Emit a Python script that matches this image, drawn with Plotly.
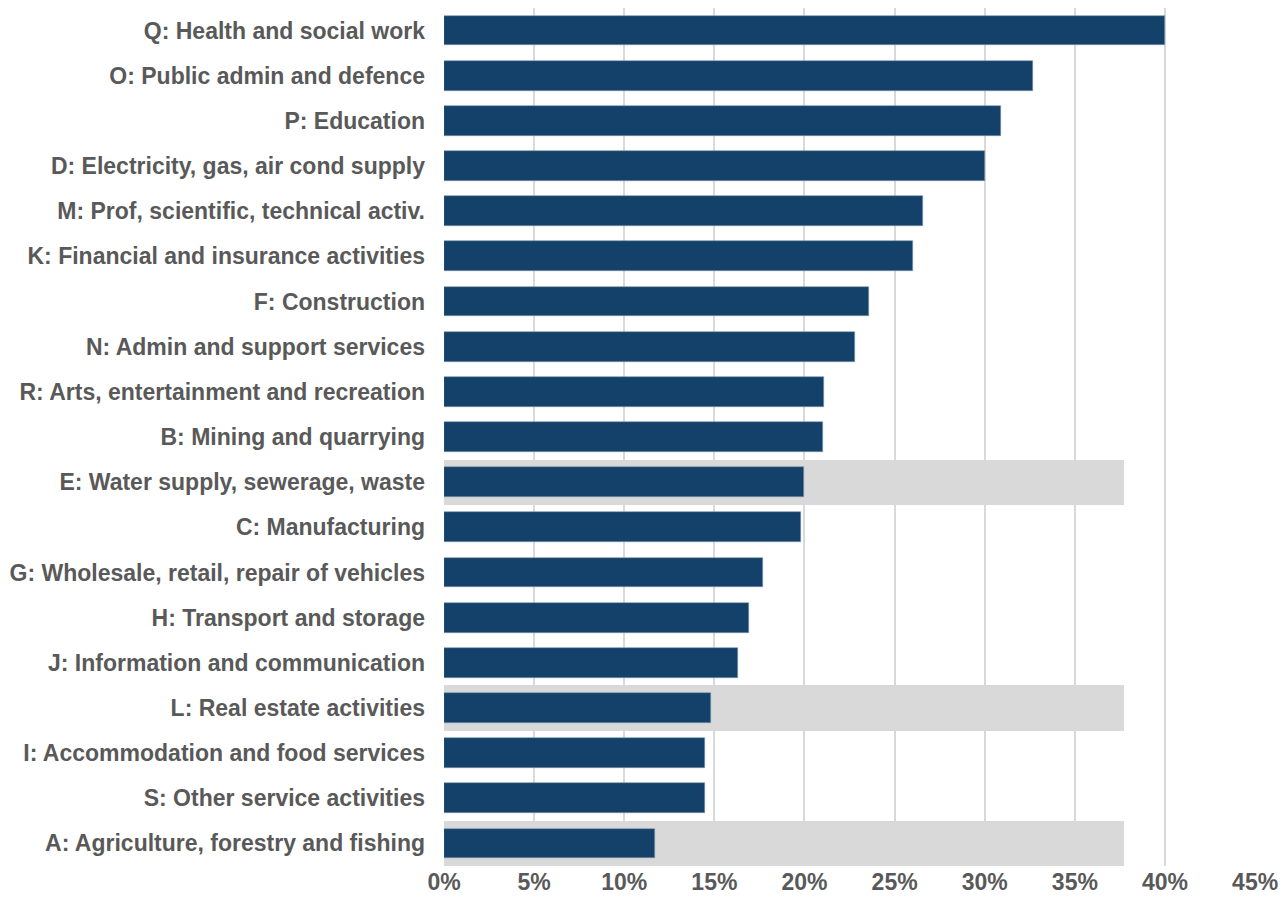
import plotly.graph_objects as go

categories = [
    "Q: Health and social work",
    "O: Public admin and defence",
    "P: Education",
    "D: Electricity, gas, air cond supply",
    "M: Prof, scientific, technical activ.",
    "K: Financial and insurance activities",
    "F: Construction",
    "N: Admin and support services",
    "R: Arts, entertainment and recreation",
    "B: Mining and quarrying",
    "E: Water supply, sewerage, waste",
    "C: Manufacturing",
    "G: Wholesale, retail, repair of vehicles",
    "H: Transport and storage",
    "J: Information and communication",
    "L: Real estate activities",
    "I: Accommodation and food services",
    "S: Other service activities",
    "A: Agriculture, forestry and fishing",
]
values = [0.400, 0.327, 0.309, 0.300, 0.266, 0.260, 0.236, 0.228, 0.211, 0.210,
          0.200, 0.198, 0.177, 0.169, 0.163, 0.148, 0.145, 0.145, 0.117]

highlight_categories = [
    "E: Water supply, sewerage, waste",
    "L: Real estate activities",
    "A: Agriculture, forestry and fishing",
]
highlight_values = [0.3775, 0.3775, 0.3775]

tick_vals = [0, 0.05, 0.10, 0.15, 0.20, 0.25, 0.30, 0.35, 0.40, 0.45]
tick_text = ["0%", "5%", "10%", "15%", "20%", "25%", "30%", "35%", "40%", "45%"]

FONT = "Liberation Sans, Arial, sans-serif"

fig = go.Figure()
fig.add_trace(go.Bar(
    x=highlight_values, y=highlight_categories, orientation="h",
    marker=dict(color="#D9D9D9", line=dict(width=0)), width=1.0,
    hoverinfo="skip", showlegend=False,
))
fig.add_trace(go.Bar(
    x=values, y=categories, orientation="h",
    marker=dict(color="#14416A", line=dict(color="#7F95AD", width=0.6)), width=0.66,
    showlegend=False,
))

fig.update_layout(
    width=1288, height=904,
    barmode="overlay",
    plot_bgcolor="white", paper_bgcolor="white",
    margin=dict(l=444, r=32, t=8, b=38, autoexpand=False),
    font=dict(family=FONT, size=23, color="#595959"),
    xaxis=dict(
        range=[0, 0.4505], tickvals=tick_vals, ticktext=tick_text,
        showgrid=True, gridcolor="#D9D9D9", gridwidth=1.5,
        zeroline=False, showline=False, ticks="",
        tickfont=dict(size=23, color="#595959", family=FONT, weight="bold"),
        automargin=False, fixedrange=True,
    ),
    yaxis=dict(
        categoryorder="array", categoryarray=categories, autorange="reversed",
        showgrid=False, zeroline=False, showline=False, ticks="",
        ticklabelstandoff=18,
        tickfont=dict(size=23, color="#595959", family=FONT, weight="bold"),
        automargin=False, fixedrange=True,
    ),
    bargap=0,
)

fig.write_html("out.html")
